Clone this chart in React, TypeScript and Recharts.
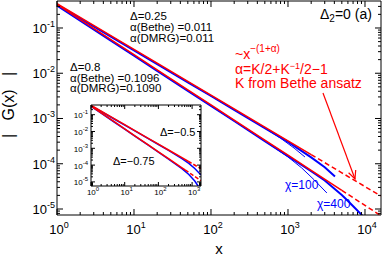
import React from "react";
import { LineChart, Line, XAxis, YAxis } from "recharts";

const FONT = '"Liberation Sans", Arial, Helvetica, sans-serif';
const RED = "#ff0000";
const BLUE = "#0000ff";

// ---------- main panel: Bethe-ansatz power laws ----------
const xBethe = [1, 2, 5, 10, 20, 50, 100, 200, 500, 1000, 2000, 5000, 10000, 16000];
const betheD025 = [0.3467, 0.1722, 0.0681, 0.0338, 0.01679, 0.00664, 0.0033, 0.001637, 6.47e-4, 3.21e-4, 1.596e-4, 6.31e-5, 3.13e-5, 1.95e-5];
const betheD08 = [0.331, 0.1535, 0.0555, 0.0257, 0.01191, 0.00431, 0.001995, 9.25e-4, 3.34e-4, 1.549e-4, 7.18e-5, 2.59e-5, 1.202e-5, 7.14e-6];
const solidEndD025 = 10; // index where the red line turns dashed
const solidEndD08 = 11;

// ---------- main panel: DMRG ----------
const xD025Chi400 = [1, 2, 5, 10, 20, 50, 100, 200, 500, 1000, 2000, 3000, 4076];
const gD025Chi400 = [0.329, 0.1636, 0.0647, 0.0321, 0.01595, 0.00631, 0.00314, 0.001555, 6.15e-4, 3.05e-4, 1.384e-4, 8.38e-5, 5.2e-5];
const xD025Chi100 = [1, 2, 5, 10, 20, 50, 100, 200, 500, 800, 1200, 1660];
const gD025Chi100 = [0.329, 0.1636, 0.0647, 0.0321, 0.01595, 0.00631, 0.00314, 0.001555, 6.15e-4, 3.67e-4, 2.22e-4, 1.41e-4];
const xD08Chi400 = [1, 2, 5, 10, 20, 50, 100, 200, 500, 1000, 2000, 3000, 5000, 5834, 7400, 9100, 10500];
const gD08Chi400 = [0.3145, 0.1458, 0.0527, 0.0244, 0.01131, 0.00409, 0.001895, 8.79e-4, 3.17e-4, 1.472e-4, 6.82e-5, 4.27e-5, 2.04e-5, 1.58e-5, 1.05e-5, 7.36e-6, 5e-6];
const xD08Chi100 = [1, 2, 5, 10, 20, 50, 100, 200, 500, 1000, 1500, 2200, 3200];
const gD08Chi100 = [0.3145, 0.1458, 0.0527, 0.0244, 0.01131, 0.00409, 0.001895, 8.79e-4, 3.17e-4, 1.413e-4, 8.13e-5, 4.37e-5, 2.26e-5];

// ---------- inset ----------
const xInUpper = [1, 2, 5, 10, 20, 50, 100, 200, 500, 760, 1000, 1840];
const betheDm05 = [0.363, 0.163, 0.0565, 0.0254, 0.01138, 3.94e-3, 1.77e-3, 7.94e-4, 2.75e-4, 1.7e-4, 1.236e-4, 6.11e-5];
const xInLower = [1, 2, 5, 10, 20, 50, 100, 200, 500, 620, 1000, 1840];
const betheDm075 = [0.331, 0.1288, 0.0369, 0.01435, 5.58e-3, 1.6e-3, 6.22e-4, 2.42e-4, 6.93e-5, 5.18e-5, 2.7e-5, 1.175e-5];
const inSolidEnd = 9;
const xDm05Dmrg = [1, 2, 5, 10, 20, 50, 100, 200, 500, 800, 1200, 1840];
const gDm05Dmrg = [0.345, 0.155, 0.0537, 0.0241, 0.01081, 3.74e-3, 1.68e-3, 7.54e-4, 2.44e-4, 1.26e-4, 6.3e-5, 2.58e-5];
const xDm075Dmrg = [1, 2, 5, 10, 20, 50, 100, 200, 500, 800, 1200, 1500, 1700];
const gDm075Dmrg = [0.314, 0.1224, 0.0351, 0.01363, 5.3e-3, 1.52e-3, 5.91e-4, 2.3e-4, 6.15e-5, 2.77e-5, 1.13e-5, 5.7e-6, 3.5e-6];

// ---------- axes ----------
const mainXDomain = [1, 16140];
const mainYDomain = [7.37e-6, 0.395];
const inXDomain = [1, 1837];
const inYDomain = [5.7e-6, 0.378];
const xDecades = [1, 10, 100, 1000, 10000];
const yDecades = [1e-6, 1e-5, 1e-4, 1e-3, 1e-2, 1e-1];
const minorSteps = [1, 2, 3, 4, 5, 6, 7, 8, 9];

const zip = (xs: number[], ys: number[]) => xs.map((x, i) => ({ x, y: ys[i] }));
const buildTicks = (decades: number[], dom: number[]) =>
  decades
    .flatMap((d) => minorSteps.map((m) => m * d))
    .filter((v) => v >= dom[0] * 0.9999 && v <= dom[1] * 1.0001);

type TickOpts = {
  side: "bottom" | "top" | "left" | "right";
  major: number;
  minor: number;
  label?: boolean;
  fs?: number;
  sfs?: number;
  supDy?: number;
  dx?: number;
  dy?: number;
};

const makeTick = (o: TickOpts) => (p: any) => {
  const { x, y, payload } = p;
  const v = payload.value;
  const lg = Math.log10(v);
  const e = Math.round(lg);
  const isMajor = Math.abs(lg - e) < 1e-6;
  const len = isMajor ? o.major : o.minor;
  let x2 = x;
  let y2 = y;
  if (o.side === "bottom") y2 = y - len;
  if (o.side === "top") y2 = y + len;
  if (o.side === "left") x2 = x + len;
  if (o.side === "right") x2 = x - len;
  return (
    <g>
      <line x1={x} y1={y} x2={x2} y2={y2} stroke="#000" strokeWidth={1} />
      {o.label && isMajor ? (
        <text
          x={x + (o.dx || 0)}
          y={y + (o.dy || 0)}
          textAnchor={o.side === "left" ? "end" : "middle"}
          fontSize={o.fs}
          fill="#000"
          fontFamily={FONT}
        >
          10
          <tspan dy={o.supDy} fontSize={o.sfs}>
            {e}
          </tspan>
        </text>
      ) : null}
    </g>
  );
};

const mainXTicks = buildTicks(xDecades, mainXDomain);
const mainYTicks = buildTicks(yDecades, mainYDomain);
const inXTicks = buildTicks(xDecades, inXDomain);
const inYTicks = buildTicks(yDecades, inYDomain);

const axisCommon = {
  type: "number" as const,
  scale: "log" as const,
  allowDataOverflow: true,
  interval: 0 as const,
  tickSize: 0,
  tickMargin: 0,
  tickLine: false,
  axisLine: { stroke: "#000", strokeWidth: 1 },
};

const renderAxes = (
  xDom: number[],
  yDom: number[],
  xTicks: number[],
  yTicks: number[],
  bottomH: number,
  leftW: number,
  major: number,
  minor: number,
  fs: number,
  sfs: number,
  supDy: number,
  xDx: number,
  xDy: number,
  yDx: number,
  yDy: number
) => [
  <XAxis
    key="xb"
    xAxisId="b"
    orientation="bottom"
    dataKey="x"
    domain={xDom}
    ticks={xTicks}
    height={bottomH}
    tick={makeTick({ side: "bottom", major, minor, label: true, fs, sfs, supDy, dx: xDx, dy: xDy })}
    {...axisCommon}
  />,
  <XAxis
    key="xt"
    xAxisId="t"
    orientation="top"
    dataKey="x"
    domain={xDom}
    ticks={xTicks}
    height={1}
    tick={makeTick({ side: "top", major, minor })}
    {...axisCommon}
  />,
  <YAxis
    key="yl"
    yAxisId="l"
    orientation="left"
    domain={yDom}
    ticks={yTicks}
    width={leftW}
    tick={makeTick({ side: "left", major, minor, label: true, fs, sfs, supDy, dx: yDx, dy: yDy })}
    {...axisCommon}
  />,
  <YAxis
    key="yr"
    yAxisId="r"
    orientation="right"
    domain={yDom}
    ticks={yTicks}
    width={1}
    tick={makeTick({ side: "right", major, minor })}
    {...axisCommon}
  />,
];

export default function App() {
  const lineProps = {
    xAxisId: "b",
    yAxisId: "l",
    dataKey: "y",
    dot: false,
    activeDot: false,
    isAnimationActive: false,
    type: "linear" as const,
  };

  return (
    <div
      style={{
        position: "absolute",
        left: 0,
        top: 0,
        width: 382,
        height: 257,
        fontFamily: FONT,
        background: "#fff",
      }}
    >
      <LineChart width={382} height={257} margin={{ top: 0, right: 0, bottom: 0, left: 0 }}>
        {renderAxes(mainXDomain, mainYDomain, mainXTicks, mainYTicks, 42, 57, 6, 3, 13, 9, -6, 2, 19, -2, 5)}
        <Line {...lineProps} data={zip(xD025Chi100, gD025Chi100)} stroke={BLUE} strokeWidth={1} />
        <Line {...lineProps} data={zip(xD08Chi100, gD08Chi100)} stroke={BLUE} strokeWidth={1} />
        <Line {...lineProps} data={zip(xD025Chi400, gD025Chi400)} stroke={BLUE} strokeWidth={2} />
        <Line {...lineProps} data={zip(xD08Chi400, gD08Chi400)} stroke={BLUE} strokeWidth={2} />
        <Line {...lineProps} data={zip(xBethe, betheD025).slice(0, solidEndD025 + 1)} stroke={RED} strokeWidth={1.5} />
        <Line {...lineProps} data={zip(xBethe, betheD025).slice(solidEndD025)} stroke={RED} strokeWidth={1.5} strokeDasharray="5 3" />
        <Line {...lineProps} data={zip(xBethe, betheD08).slice(0, solidEndD08 + 1)} stroke={RED} strokeWidth={1.5} />
        <Line {...lineProps} data={zip(xBethe, betheD08).slice(solidEndD08)} stroke={RED} strokeWidth={1.5} strokeDasharray="5 3" />
      </LineChart>

      <div style={{ position: "absolute", left: 71, top: 104, width: 131, height: 96, background: "#fff" }}>
        <LineChart width={131} height={96} margin={{ top: 0, right: 0, bottom: 0, left: 0 }}>
          {renderAxes(inXDomain, inYDomain, inXTicks, inYTicks, 14, 20, 4, 2, 8, 6, -4, 2, 9, -3, 3.5)}
          <Line {...lineProps} data={zip(xDm05Dmrg, gDm05Dmrg)} stroke={BLUE} strokeWidth={1.5} />
          <Line {...lineProps} data={zip(xDm075Dmrg, gDm075Dmrg)} stroke={BLUE} strokeWidth={1.5} />
          <Line {...lineProps} data={zip(xInUpper, betheDm05).slice(0, inSolidEnd + 1)} stroke={RED} strokeWidth={1.5} />
          <Line {...lineProps} data={zip(xInUpper, betheDm05).slice(inSolidEnd)} stroke={RED} strokeWidth={1.5} strokeDasharray="4 2" />
          <Line {...lineProps} data={zip(xInLower, betheDm075).slice(0, inSolidEnd + 1)} stroke={RED} strokeWidth={1.5} />
          <Line {...lineProps} data={zip(xInLower, betheDm075).slice(inSolidEnd)} stroke={RED} strokeWidth={1.5} strokeDasharray="4 2" />
        </LineChart>
      </div>

      <svg
        width={382}
        height={257}
        style={{ position: "absolute", left: 0, top: 0, pointerEvents: "none" }}
        fontFamily={FONT}
      >
        <text
          x={14}
          y={105}
          fontSize={16}
          textAnchor="middle"
          transform="rotate(-90 14 105)"
          fill="#000"
          style={{ whiteSpace: "pre" }}
        >
          {"|   G(x)   |"}
        </text>
        <text x={219} y={254} fontSize={15} textAnchor="middle" fill="#000">
          x
        </text>

        <g fontSize={11.5} fill="#000">
          <text x={130} y={19.5}>Δ=0.25</text>
          <text x={130} y={31}>α(Bethe) =0.011</text>
          <text x={130} y={42}>α(DMRG)=0.011</text>
          <text x={70} y={71}>Δ=0.8</text>
          <text x={70} y={81.5}>α(Bethe) =0.1096</text>
          <text x={70} y={92}>α(DMRG)=0.1090</text>
        </g>

        <text x={320} y={19} fontSize={14} fill="#000">
          Δ<tspan fontSize={10} dy={3}>2</tspan>
          <tspan dy={-3}>=0 (a)</tspan>
        </text>

        <g fill={RED} fontSize={14}>
          <text x={235} y={58.5}>
            ~x<tspan fontSize={10} dy={-7}>−(1+α)</tspan>
          </text>
          <text x={235} y={74}>
            α=K/2+K<tspan fontSize={9} dy={-5}>−1</tspan>
            <tspan dy={5}>/2−1</tspan>
          </text>
          <text x={235} y={87.5}>K from Bethe ansatz</text>
        </g>
        <g stroke={RED} strokeWidth={1.2} fill="none">
          <line x1={323} y1={93} x2={355} y2={179} />
          <polyline points="348.6,172.7 355,179 355.7,170" />
        </g>

        <g fill={BLUE} fontSize={12}>
          <text x={285} y={189}>χ=100</text>
          <text x={317} y={208}>χ=400</text>
        </g>

        <g fill="#000" fontSize={11}>
          <text x={160} y={136}>Δ=−0.5</text>
          <text x={113} y={164.5}>Δ=−0.75</text>
        </g>
      </svg>
    </div>
  );
}
